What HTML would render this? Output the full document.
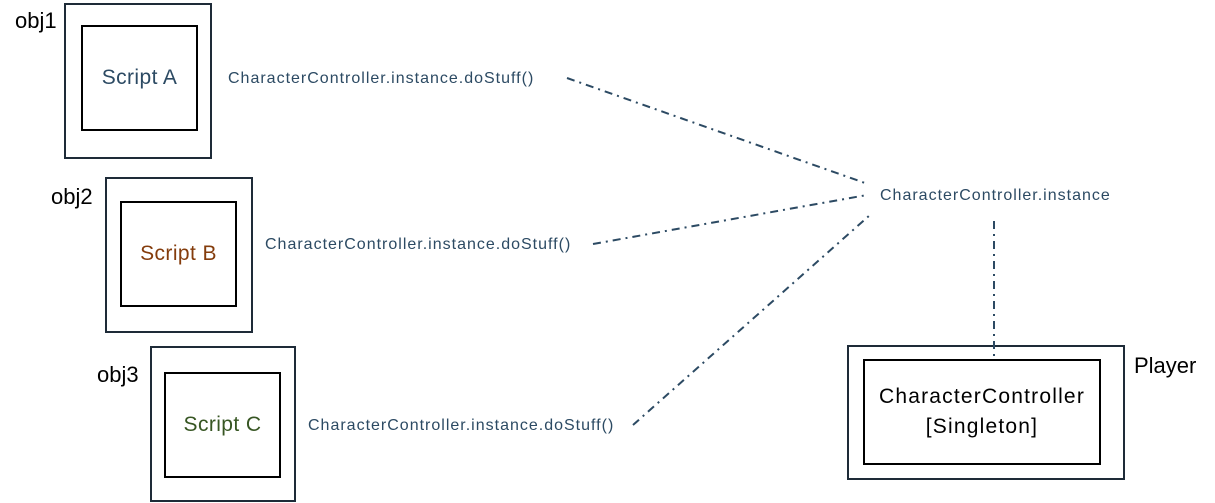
<!DOCTYPE html>
<html><head><style>
body{margin:0;width:1215px;height:503px;background:#fff;overflow:hidden;position:relative;font-family:"Liberation Sans",sans-serif}
.b{position:absolute;box-sizing:border-box;border:2px solid #1e2b38}
.i{position:absolute;box-sizing:border-box;border:2px solid #000;display:flex;align-items:center;justify-content:center;text-align:center;font-size:21px;letter-spacing:0.4px}
.t{position:absolute;white-space:nowrap}
.c{font-size:16px;color:#2c4a63;letter-spacing:1px}
.o{font-size:22px;color:#000}
</style></head><body>
<div class="b" style="left:64px;top:3px;width:148px;height:156px"></div>
<div class="i" style="left:81px;top:25px;width:117px;height:106px;color:#2c4a63">Script A</div>
<div class="b" style="left:105px;top:177px;width:148px;height:156px"></div>
<div class="i" style="left:120px;top:201px;width:117px;height:106px;color:#843c0c">Script B</div>
<div class="b" style="left:150px;top:346px;width:146px;height:156px"></div>
<div class="i" style="left:164px;top:372px;width:117px;height:106px;color:#375623">Script C</div>
<div class="b" style="left:847px;top:345px;width:278px;height:135px"></div>
<div class="i" style="left:863px;top:359px;width:238px;height:106px;line-height:30px;letter-spacing:1.2px">CharacterController<br>[Singleton]</div>
<div class="t o" style="left:15px;top:8px">obj1</div>
<div class="t o" style="left:51px;top:184px">obj2</div>
<div class="t o" style="left:97px;top:362px">obj3</div>
<div class="t o" style="left:1134px;top:353px">Player</div>
<div class="t c" style="left:228px;top:70px">CharacterController.instance.doStuff()</div>
<div class="t c" style="left:265px;top:236px">CharacterController.instance.doStuff()</div>
<div class="t c" style="left:308px;top:417px">CharacterController.instance.doStuff()</div>
<div class="t c" style="left:880px;top:187px">CharacterController.instance</div>
<svg width="1215" height="503" style="position:absolute;left:0;top:0">
<g stroke="#2c4a63" stroke-width="2" stroke-dasharray="8,5,2,5" fill="none">
<line x1="567" y1="78" x2="865" y2="183"/>
<line x1="593" y1="244" x2="867" y2="195"/>
<line x1="633" y1="425" x2="870" y2="215"/>
<line x1="994" y1="221" x2="994" y2="356"/>
</g></svg>
</body></html>
